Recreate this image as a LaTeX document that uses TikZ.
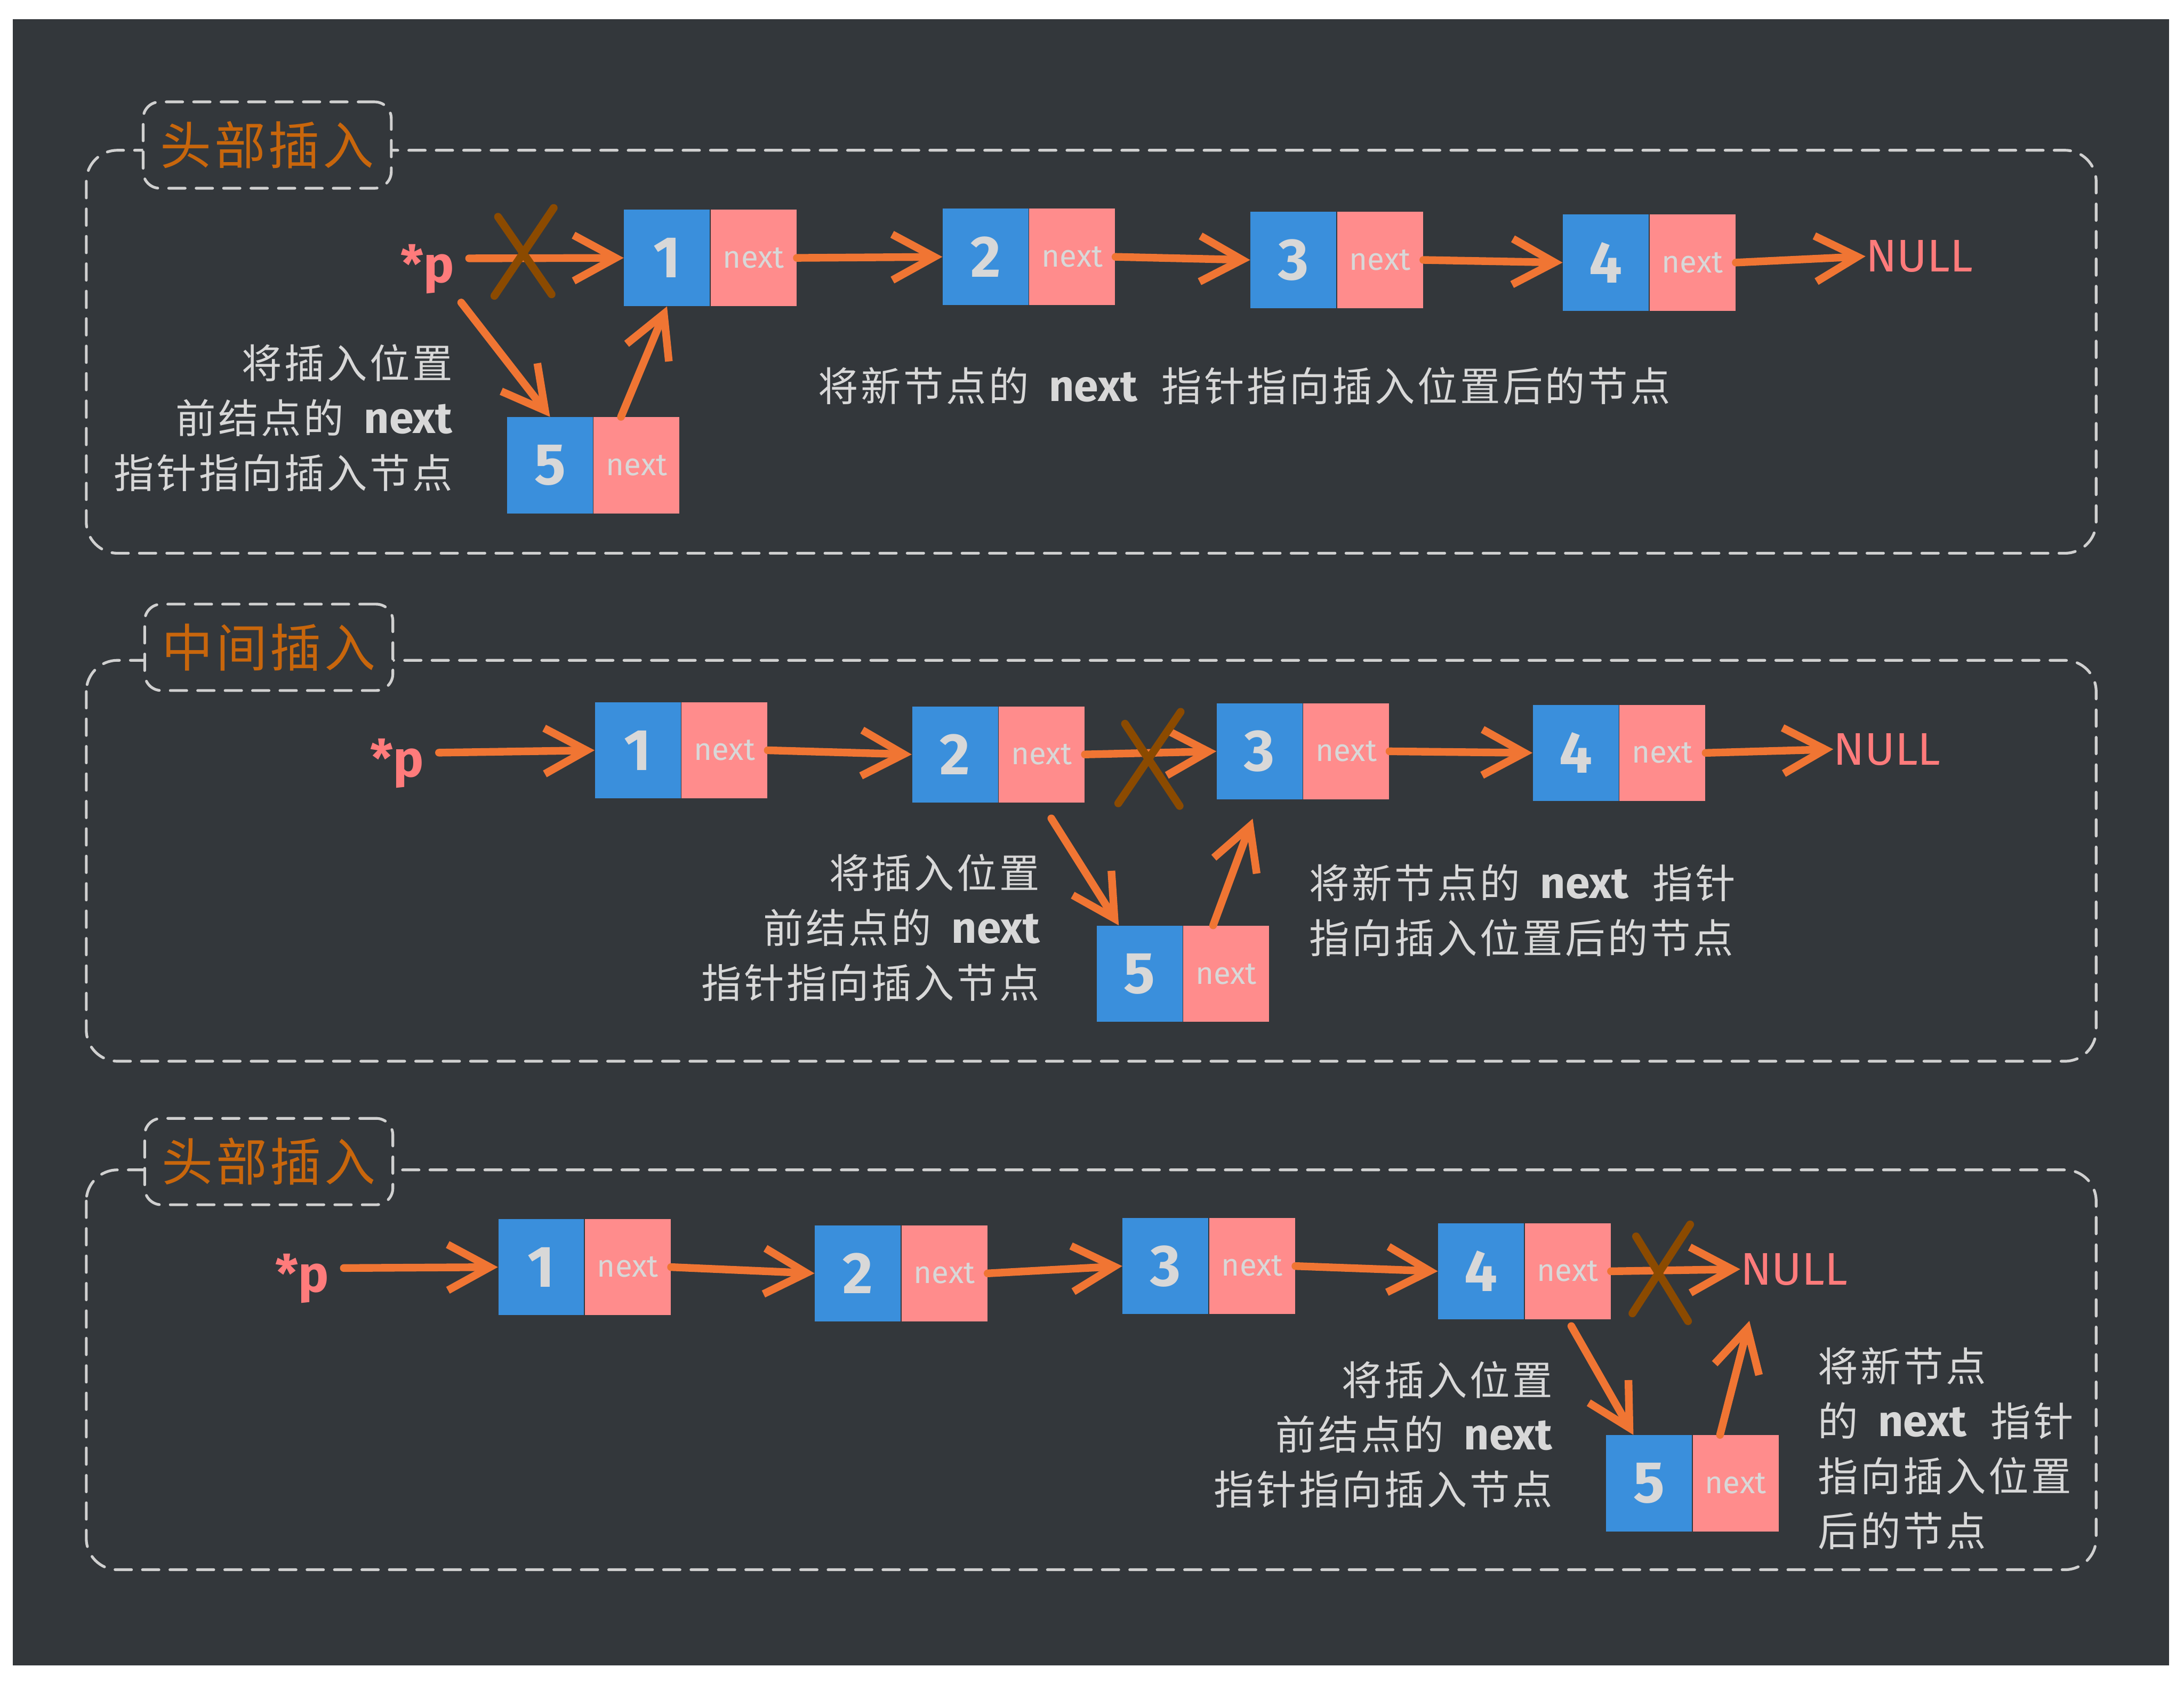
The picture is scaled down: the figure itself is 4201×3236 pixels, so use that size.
\documentclass[tikz,border=0pt]{standalone}
\usepackage{fontspec}
\setmainfont{Noto Sans CJK SC}
\newfontfamily\cjkwide{Noto Sans CJK SC}[LetterSpace=6]
\newfontfamily\latinf{Fira Sans}
\usetikzlibrary{arrows.meta}
\definecolor{bgc}{HTML}{33373B}
\definecolor{blueC}{HTML}{3A8FDC}
\definecolor{pinkC}{HTML}{FF8C8C}
\definecolor{orangeC}{HTML}{F07533}
\definecolor{brownC}{HTML}{8B4A00}
\definecolor{titleC}{HTML}{C8660C}
\definecolor{txtC}{HTML}{D8D8D8}
\definecolor{dashC}{HTML}{D0D0D0}
\definecolor{nullC}{HTML}{FF7B7B}
\tikzset{
  cellb/.style={fill=blueC, minimum width=1.65cm, minimum height=1.85cm, inner sep=0pt,
    text=txtC, font=\latinf\bfseries\fontsize{32}{32}\selectfont},
  cellp/.style={fill=pinkC, minimum width=1.65cm, minimum height=1.85cm, inner sep=0pt,
    text=txtC, font=\latinf\fontsize{17}{17}\selectfont, anchor=west},
  arr/.style={draw=orangeC, line width=4.2pt, line cap=round,
    -{Straight Barb[length=23pt,width=25pt]}},
  xmark/.style={draw=brownC, line width=4.3pt, line cap=round},
  boxdash/.style={draw=dashC, line width=1.5pt, dash pattern=on 9pt off 6pt, line cap=round},
  ttlbox/.style={boxdash, fill=bgc, rounded corners=0.32cm, minimum width=4.77cm,
    minimum height=1.66cm, text=titleC, font=\cjkwide\fontsize{28}{28}\selectfont},
  lbl/.style={text=txtC, font=\cjkwide\fontsize{22}{30}\selectfont, inner sep=0pt},
  ptr/.style={text=nullC, font=\latinf\bfseries\fontsize{28}{28}\selectfont, inner sep=0pt},
  nul/.style={text=nullC, font=\latinf\fontsize{25}{25}\selectfont, inner sep=0pt},
}
\newcommand{\nx}{\hspace{0.5em}{\latinf\bfseries\fontsize{24}{30}\selectfont next}}
\newcommand{\nxs}{\nx\hspace{0.6em}}
\begin{document}
\begin{tikzpicture}[x=0.01cm,y=-0.01cm]
\useasboundingbox (0,0) rectangle (4201,3236);
\fill[white] (0,0) rectangle (4201,3236);
\fill[bgc] (25,37) rectangle (4172,3203);

% ---------- outer frames ----------
\draw[boxdash, rounded corners=0.6cm] (166,289) rectangle (4032,1064);
\draw[boxdash, rounded corners=0.6cm] (166,1270) rectangle (4032,2041);
\draw[boxdash, rounded corners=0.6cm] (166,2250) rectangle (4032,3019);
\node[ttlbox] (t1) at (514,279) {头部插入};
\node[ttlbox] (t2) at (517,1245) {中间插入};
\node[ttlbox] (t3) at (517,2234) {头部插入};

% ---------- panel 1 ----------
\node[ptr] (p1) at (822,517) {*p};
\node[cellb] (a1b) at (1283,496) {1};
\node[cellp] (a1p) at (a1b.east) {next};
\node[cellb] (a2b) at (1896,494) {2};
\node[cellp] (a2p) at (a2b.east) {next};
\node[cellb] (a3b) at (2488,500) {3};
\node[cellp] (a3p) at (a3b.east) {next};
\node[cellb] (a4b) at (3089,505) {4};
\node[cellp] (a4p) at (a4b.east) {next};
\node[nul] (null1) at (3692,493) {NULL};
\node[cellb] (a5b) at (1058,895) {5};
\node[cellp] (a5p) at (a5b.east) {next};

\draw[arr, shorten <=8pt] ([yshift=0.2cm]p1.east) -- (a1b.west);
\draw[arr] (a1p.east) -- (a2b.west);
\draw[arr] (a2p.east) -- (a3b.west);
\draw[arr] (a3p.east) -- (a4b.west);
\draw[arr] (a4p.east) -- (null1.west);
\draw[arr, shorten <=6pt] (p1.south east) -- (a5b.north);
\draw[arr] ([xshift=-0.3cm]a5p.north) -- (a1b.south);
\draw[xmark] (958,417) -- (1061,566);
\draw[xmark] (1065,400) -- (951,569);

\node[lbl, align=right, anchor=east] (l1) at (871,804) {将插入位置\\前结点的\nx\\指针指向插入节点};
\node[lbl, align=left, anchor=west] (r1) at (1573,742) {将新节点的\nxs 指针指向插入位置后的节点};

% ---------- panel 2 ----------
\node[ptr] (p2) at (764,1468) {*p};
\node[cellb] (b1b) at (1227,1443) {1};
\node[cellp] (b1p) at (b1b.east) {next};
\node[cellb] (b2b) at (1837,1451) {2};
\node[cellp] (b2p) at (b2b.east) {next};
\node[cellb] (b3b) at (2423,1445) {3};
\node[cellp] (b3p) at (b3b.east) {next};
\node[cellb] (b4b) at (3031,1448) {4};
\node[cellp] (b4p) at (b4b.east) {next};
\node[nul] (null2) at (3630,1441) {NULL};
\node[cellb] (b5b) at (2192,1873) {5};
\node[cellp] (b5p) at (b5b.east) {next};

\draw[arr, shorten <=8pt] ([yshift=0.2cm]p2.east) -- (b1b.west);
\draw[arr] (b1p.east) -- (b2b.west);
\draw[arr] (b2p.east) -- (b3b.west);
\draw[arr] (b3p.east) -- (b4b.west);
\draw[arr] (b4p.east) -- (null2.west);
\draw[arr, shorten <=10pt] (b2p.south) -- ([xshift=-0.4cm]b5b.north);
\draw[arr, shorten >=11pt] ([xshift=-0.25cm]b5p.north) -- (b3b.south);
\draw[xmark] (2164,1392) -- (2269,1550);
\draw[xmark] (2271,1369) -- (2151,1545);

\node[lbl, align=right, anchor=east] (l2) at (2001,1784) {将插入位置\\前结点的\nx\\指针指向插入节点};
\node[lbl, align=left, anchor=west] (r2) at (2518,1751) {将新节点的\nxs 指针\\指向插入位置后的节点};

% ---------- panel 3 ----------
\node[ptr] (p3) at (581,2459) {*p};
\node[cellb] (c1b) at (1041,2437) {1};
\node[cellp] (c1p) at (c1b.east) {next};
\node[cellb] (c2b) at (1650,2449) {2};
\node[cellp] (c2p) at (c2b.east) {next};
\node[cellb] (c3b) at (2242,2435) {3};
\node[cellp] (c3p) at (c3b.east) {next};
\node[cellb] (c4b) at (2849,2445) {4};
\node[cellp] (c4p) at (c4b.east) {next};
\node[nul] (null3) at (3451,2441) {NULL};
\node[cellb] (c5b) at (3172,2853) {5};
\node[cellp] (c5p) at (c5b.east) {next};

\draw[arr, shorten <=8pt] ([yshift=0.2cm]p3.east) -- (c1b.west);
\draw[arr] (c1p.east) -- (c2b.west);
\draw[arr] (c2p.east) -- (c3b.west);
\draw[arr] (c3p.east) -- (c4b.west);
\draw[arr] (c4p.east) -- (null3.west);
\draw[arr, shorten <=4pt] (c4p.south) -- ([xshift=-0.3cm]c5b.north);
\draw[arr, shorten >=0.7cm] ([xshift=-0.3cm]c5p.north) -- ([xshift=0.35cm]null3.south west);
\draw[xmark] (3147,2378) -- (3247,2541);
\draw[xmark] (3251,2355) -- (3140,2526);

\node[lbl, align=right, anchor=east] (l3) at (2987,2759) {将插入位置\\前结点的\nx\\指针指向插入节点};
\node[lbl, align=left, anchor=west] (r3) at (3496,2786) {将新节点\\的\nxs 指针\\指向插入位置\\后的节点};
\end{tikzpicture}
\end{document}
